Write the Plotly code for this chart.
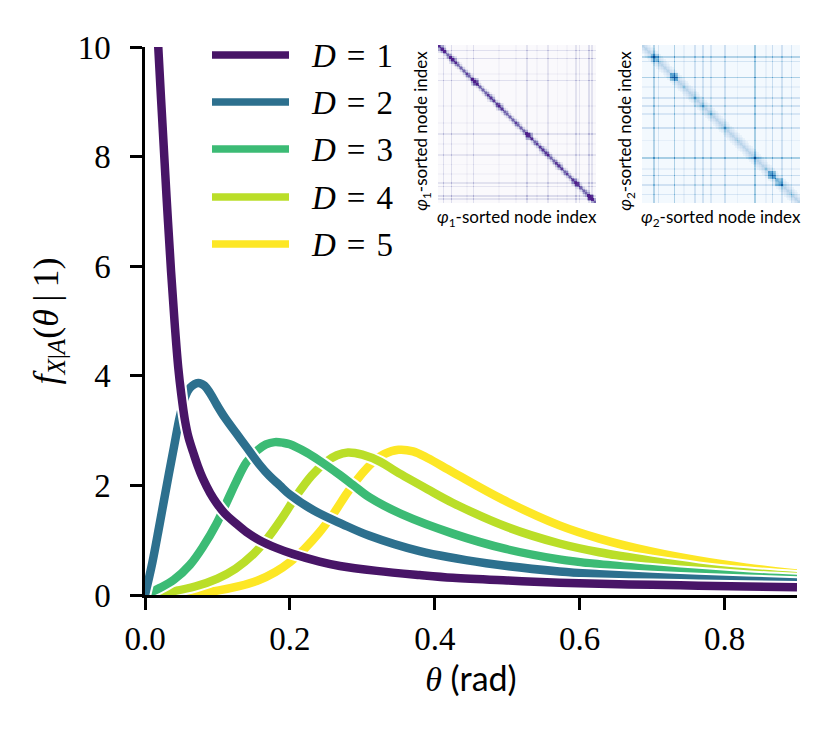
import plotly.graph_objects as go
from plotly.colors import sequential

# curves, theta in rad
theta_d1 = [0.012, 0.0183, 0.024, 0.0298, 0.036, 0.041, 0.0459, 0.05, 0.055, 0.06,
            0.0666, 0.073, 0.08, 0.09, 0.0987, 0.11, 0.126, 0.14, 0.158, 0.181,
            0.204, 0.241, 0.269, 0.32, 0.379, 0.425, 0.50, 0.572, 0.627, 0.70,
            0.764, 0.83, 0.9]
f_d1 = [11.9, 10.0, 8.62, 7.25, 5.9, 4.95, 4.15, 3.67, 3.2, 2.88,
        2.6, 2.35, 2.12, 1.86, 1.68, 1.49, 1.3, 1.15, 1.0, 0.86,
        0.75, 0.61, 0.53, 0.44, 0.365, 0.315, 0.265, 0.225, 0.205, 0.185,
        0.17, 0.155, 0.14]

theta_d2 = [0.0, 0.01, 0.02, 0.03, 0.04, 0.048, 0.055, 0.062, 0.0735, 0.082,
            0.09, 0.0987, 0.11, 0.126, 0.14, 0.158, 0.172, 0.186, 0.2, 0.232,
            0.273, 0.31, 0.379, 0.471, 0.572, 0.627, 0.70, 0.764, 0.83, 0.9]
f_d2 = [0.0, 0.58, 1.28, 2.0, 2.7, 3.25, 3.6, 3.78, 3.87, 3.82,
        3.68, 3.48, 3.24, 2.95, 2.7, 2.38, 2.17, 2.0, 1.83, 1.55,
        1.29, 1.08, 0.8, 0.58, 0.43, 0.38, 0.33, 0.29, 0.26, 0.23]

theta_d3 = [0.0, 0.0207, 0.04, 0.062, 0.08, 0.0987, 0.113, 0.126, 0.14, 0.155,
            0.167, 0.179, 0.19, 0.2, 0.223, 0.241, 0.269, 0.287, 0.31, 0.355,
            0.425, 0.498, 0.572, 0.627, 0.70, 0.764, 0.83, 0.9]
f_d3 = [0.0, 0.13, 0.28, 0.55, 0.88, 1.3, 1.7, 2.07, 2.42, 2.64,
        2.75, 2.79, 2.78, 2.75, 2.6, 2.45, 2.19, 2.01, 1.78, 1.47,
        1.12, 0.84, 0.65, 0.56, 0.47, 0.40, 0.34, 0.29]

theta_d4 = [0.0, 0.039, 0.07, 0.1, 0.125, 0.15, 0.17, 0.19, 0.21, 0.23,
            0.25, 0.265, 0.28, 0.3, 0.325, 0.347, 0.39, 0.425, 0.5, 0.572,
            0.627, 0.70, 0.764, 0.83, 0.9]
f_d4 = [0.0, 0.07, 0.16, 0.3, 0.48, 0.75, 1.05, 1.42, 1.83, 2.18,
        2.43, 2.55, 2.6, 2.56, 2.43, 2.25, 1.93, 1.68, 1.24, 0.94,
        0.78, 0.62, 0.5, 0.41, 0.34]

theta_d5 = [0.0, 0.06, 0.1, 0.13, 0.155, 0.18, 0.2, 0.22, 0.24, 0.26,
            0.28, 0.3, 0.315, 0.33, 0.35, 0.37, 0.39, 0.425, 0.494, 0.572,
            0.627, 0.70, 0.764, 0.83, 0.9]
f_d5 = [0.0, 0.02, 0.08, 0.16, 0.26, 0.42, 0.6, 0.84, 1.13, 1.48,
        1.88, 2.22, 2.43, 2.57, 2.65, 2.62, 2.5, 2.24, 1.74, 1.27,
        1.03, 0.79, 0.63, 0.5, 0.39]

labels = ['<i>D</i>\u2004=\u20041', '<i>D</i>\u2004=\u20042', '<i>D</i>\u2004=\u20043',
          '<i>D</i>\u2004=\u20044', '<i>D</i>\u2004=\u20045']
colors = ['#481567', '#2D708E', '#3CBB75', '#BADE28', '#FDE725']
curves = [(theta_d1, f_d1), (theta_d2, f_d2), (theta_d3, f_d3),
          (theta_d4, f_d4), (theta_d5, f_d5)]

x_ticks = [0.0, 0.2, 0.4, 0.6, 0.8]
x_ticklabels = ['0.0', '0.2', '0.4', '0.6', '0.8']
y_ticks = [0, 2, 4, 6, 8, 10]

# inset adjacency matrices (node order sorted by phi)
n_nodes = 100
hubs_1 = [3, 8, 22, 56, 69, 87, 89, 95, 97, 18, 38, 49, 62, 75, 81]
hub_w_1 = [0.22, 0.24, 0.22, 0.2, 0.18, 0.2, 0.18, 0.24, 0.2, 0.07, 0.07, 0.07, 0.07, 0.07, 0.07]
blocks_1 = [2, 9, 23, 33, 39, 57, 66, 76, 86, 96]
block_w_1 = [0.2, 0.2, 0.25, 0.15, 0.15, 0.2, 0.15, 0.15, 0.15, 0.2]
diag_1 = [0.75, 0.55, 0.28, 0.1]

hubs_2 = [7, 10, 20, 33, 38, 43, 52, 71, 82, 88, 94, 26, 60, 78]
hub_w_2 = [0.32, 0.18, 0.34, 0.2, 0.2, 0.16, 0.22, 0.36, 0.24, 0.2, 0.16, 0.08, 0.08, 0.08]
blocks_2 = [8, 20, 82, 86]
block_w_2 = [0.15, 0.3, 0.3, 0.2]
diag_2 = [0.3, 0.26, 0.2, 0.15, 0.1, 0.06]


def adjacency(hubs, hub_w, blocks, block_w, diag):
    line = [0.0] * n_nodes
    for h, w in zip(hubs, hub_w):
        line[h] = max(line[h], w)
    z = []
    for i in range(n_nodes):
        row = []
        for j in range(n_nodes):
            v = 0.02 + line[i] + line[j]
            d = abs(i - j)
            if d < len(diag):
                v += diag[d]
            for c, w in zip(blocks, block_w):
                if abs(i - c) <= 2 and abs(j - c) <= 2:
                    v += w
            row.append(min(v, 1.0))
        z.append(row)
    return z


def scale(cols):
    return [[k / (len(cols) - 1), c] for k, c in enumerate(cols)]


# page has an 8px body margin, so the figure is 8px smaller than the window
W, H = 822, 724
ml, mt, pw, ph = 137, 37, 660, 550
mr, mb = W - ml - pw, H - mt - ph


def px(x):
    return (x - 8 - ml) / pw


def py(y):
    return (mt + ph - (y - 8)) / ph


serif = 'Liberation Serif'
sans = 'Lato'

fig = go.Figure()

# D=5 at the bottom, D=1 on top, each with a white edge
for k in range(4, -1, -1):
    th, f = curves[k]
    fig.add_trace(go.Scatter(x=th, y=f, mode='lines', line=dict(color='white', width=12.5, shape='spline'),
                             showlegend=False, hoverinfo='skip'))
    fig.add_trace(go.Scatter(x=th, y=f, mode='lines', line=dict(color=colors[k], width=8.5, shape='spline'),
                             name=labels[k], showlegend=False))

fig.add_trace(go.Heatmap(z=adjacency(hubs_1, hub_w_1, blocks_1, block_w_1, diag_1),
                         colorscale=scale(sequential.Purples), zmin=0, zmax=1.1,
                         showscale=False, xaxis='x2', yaxis='y2', hoverinfo='skip'))
fig.add_trace(go.Heatmap(z=adjacency(hubs_2, hub_w_2, blocks_2, block_w_2, diag_2),
                         colorscale=scale(sequential.Blues), zmin=0, zmax=1.1,
                         showscale=False, xaxis='x3', yaxis='y3', hoverinfo='skip'))

# legend drawn by hand to get the long line samples
legend_rows = [55, 102, 149, 197, 244]
shapes = []
annotations = []
for k in range(5):
    shapes.append(dict(type='line', xref='paper', yref='paper',
                       x0=px(212), x1=px(289), y0=py(legend_rows[k]), y1=py(legend_rows[k]),
                       line=dict(color=colors[k], width=7.5)))
    annotations.append(dict(xref='paper', yref='paper', x=px(309), y=py(legend_rows[k] + 1),
                            text=labels[k], showarrow=False, xanchor='left', yanchor='middle',
                            font=dict(family=serif, size=33, color='black')))

inset_label_1 = '<i>φ</i><sub>1</sub>-sorted node index'
inset_label_2 = '<i>φ</i><sub>2</sub>-sorted node index'
for ax, lab in [('x2', inset_label_1), ('x3', inset_label_2)]:
    annotations.append(dict(xref=ax + ' domain', yref='y' + ax[1] + ' domain', x=0.5, y=-0.005,
                            text=lab, showarrow=False, xanchor='center', yanchor='top',
                            font=dict(family=sans, size=17, color='black')))
    annotations.append(dict(xref=ax + ' domain', yref='y' + ax[1] + ' domain', x=-0.01, y=0.46,
                            text=lab, showarrow=False, xanchor='right', yanchor='middle',
                            textangle=-90, font=dict(family=sans, size=17, color='black')))

hidden = dict(showticklabels=False, ticks='', showgrid=False, zeroline=False, showline=False)

fig.update_layout(
    width=W, height=H,
    margin=dict(l=ml, r=mr, t=mt, b=mb),
    paper_bgcolor='white', plot_bgcolor='white',
    showlegend=False,
    font=dict(family=serif, size=32, color='black'),
    xaxis=dict(domain=[0, px(797)], range=[0, 0.9], tickvals=x_ticks, ticktext=x_ticklabels,
               ticks='outside', ticklen=12, tickwidth=2.5, tickcolor='black',
               showline=True, linewidth=2.5, linecolor='black', showgrid=False, zeroline=False,
               ticklabelstandoff=1, tickfont=dict(family=serif, size=33),
               title=dict(text='<i>θ</i> <span style="font-family:Lato">(rad)</span>',
                          font=dict(family=serif, size=34), standoff=6)),
    yaxis=dict(domain=[0, py(47)], range=[0, 10], tickvals=y_ticks,
               ticks='outside', ticklen=12, tickwidth=2.5, tickcolor='black',
               showline=True, linewidth=2.5, linecolor='black', showgrid=False, zeroline=False,
               ticklabelstandoff=13, tickfont=dict(family=serif, size=33),
               title=dict(text='<i>f</i><sub><i>X</i>|<i>A</i></sub>(<i>θ</i>\u2009|\u20091)',
                          font=dict(family=serif, size=36), standoff=9)),
    xaxis2=dict(domain=[px(438), px(596)], anchor='y2', **hidden),
    yaxis2=dict(domain=[py(203), 1], anchor='x2', autorange='reversed', **hidden),
    xaxis3=dict(domain=[px(642), px(800)], anchor='y3', **hidden),
    yaxis3=dict(domain=[py(203), 1], anchor='x3', autorange='reversed', **hidden),
    shapes=shapes,
    annotations=annotations,
)

fig.write_html('out.html')
